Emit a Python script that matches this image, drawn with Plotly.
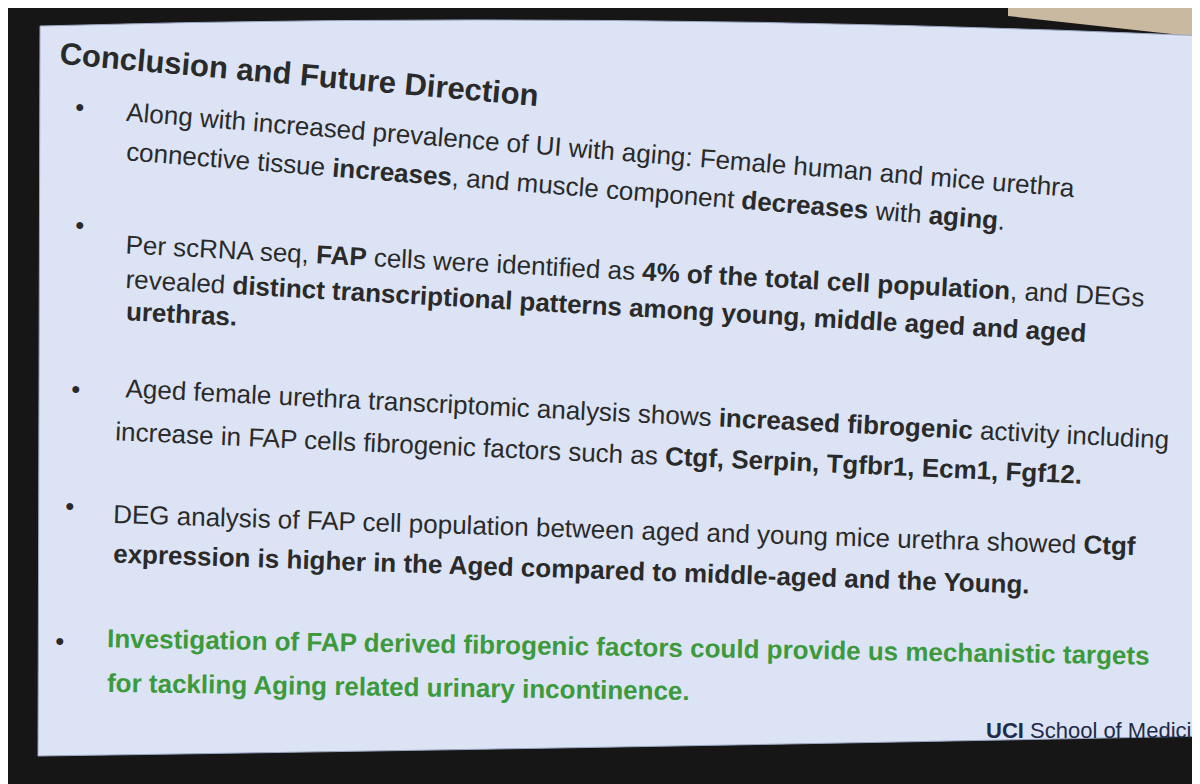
import math
import plotly.graph_objects as go

# slide text, one entry per printed line
title = "Conclusion and Future Direction"
lines = [
    "Along with increased prevalence of UI with aging: Female human and mice urethra",
    "connective tissue <b>increases</b>, and muscle component <b>decreases</b> with <b>aging</b>.",
    "Per scRNA seq, <b>FAP</b> cells were identified as <b>4% of the total cell population</b>, and DEGs",
    "revealed <b>distinct transcriptional patterns among young, middle aged and aged</b>",
    "<b>urethras.</b>",
    "Aged female urethra transcriptomic analysis shows <b>increased fibrogenic</b> activity including",
    "increase in FAP cells fibrogenic factors such as <b>Ctgf, Serpin, Tgfbr1, Ecm1, Fgf12.</b>",
    "DEG analysis of FAP cell population between aged and young mice urethra showed <b>Ctgf</b>",
    "<b>expression is higher in the Aged compared to middle-aged and the Young.</b>",
    "<b>Investigation of FAP derived fibrogenic factors could provide us mechanistic targets</b>",
    "<b>for tackling Aging related urinary incontinence.</b>",
]
line_colors = ["#2a2a2a"] * 9 + ["#3c9a3c"] * 2
footer = "<b>UCI</b> School of Medicin"

# placement in the photo (start point, end point) -- perspective makes lines slope
line_pos = [
    ((115, 103), (1072, 180)),
    ((115, 142), (1012, 213)),
    ((115, 236), (1150, 290)),
    ((115, 270), (1090, 325)),
    ((115, 303), (240, 309)),
    ((115, 380), (1170, 432)),
    ((105, 422), (1105, 467)),
    ((103, 505), (1158, 538)),
    ((103, 543), (1132, 578)),
    ((97, 630), (1185, 648)),
    ((97, 674), (745, 683)),
]
bullets = [(72, 98), (72, 216), (68, 380), (62, 497), (52, 632)]

fig = go.Figure()
fig.add_shape(type="path", path="M 1000 0 L 1200 0 L 1200 30 L 1000 8 Z",
              fillcolor="#c9b9a0", line_width=0, layer="below")
fig.add_shape(type="path", path="M 32 18 Q 600 2 1200 28 L 1200 728 Q 600 740 30 748 Z",
              fillcolor="#dbe3f4", line=dict(color="#9aa6c0", width=1), layer="below")

def place(start, end, text, color, size, bold=False):
    (x0, y0), (x1, y1) = start, end
    ang = math.degrees(math.atan2(y1 - y0, x1 - x0))
    fig.add_annotation(x=x0, y=(y0 + y1) / 2, text=f"<b>{text}</b>" if bold else text,
                       showarrow=False, textangle=ang, xanchor="left", yanchor="middle",
                       font=dict(family="Liberation Sans", size=size, color=color))

place((48, 42), (592, 90), title, "#2a2a2a", 31, bold=True)
for t, c, (s, e) in zip(lines, line_colors, line_pos):
    place(s, e, t, c, 26)
for bx, by in bullets:
    fig.add_annotation(x=bx, y=by, text="●", showarrow=False,
                       font=dict(size=16, color="#2a2a2a"))
fig.add_annotation(x=1198, y=722, text=footer, showarrow=False, xanchor="right",
                   font=dict(family="Liberation Sans", size=22, color="#1e2b4a"))

fig.update_xaxes(range=[0, 1200], visible=False)
fig.update_yaxes(range=[784, 0], visible=False)
fig.update_layout(width=1200, height=784, margin=dict(l=0, r=0, t=0, b=0),
                  paper_bgcolor="#161616", plot_bgcolor="#161616", showlegend=False)
fig.write_html("out.html")
